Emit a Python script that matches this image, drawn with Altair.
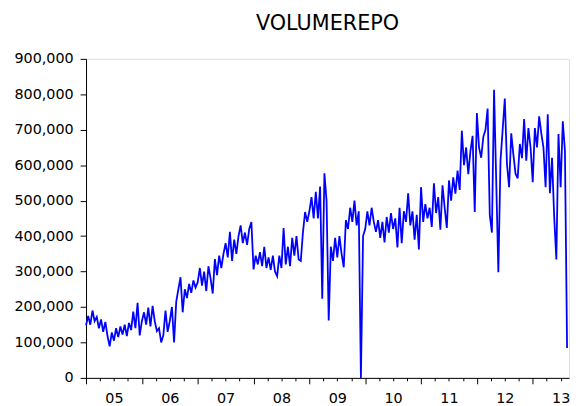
import altair as alt
import pandas as pd

# Values in thousands, roughly biweekly readings per year
v2005 = [148, 175, 150, 190, 160, 172, 140, 165, 130, 158, 118, 89, 128, 105, 140, 115, 145, 122, 150, 118, 155, 135, 187, 140, 212, 120]
v2006 = [160, 185, 150, 198, 145, 203, 160, 132, 140, 100, 120, 190, 130, 160, 200, 100, 215, 250, 284, 185, 250, 225, 265, 240, 275, 255]
v2007 = [270, 310, 260, 300, 245, 315, 280, 238, 335, 290, 345, 310, 350, 380, 340, 412, 330, 390, 350, 400, 430, 380, 410, 375, 420, 440]
v2008 = [306, 345, 320, 355, 315, 370, 310, 340, 305, 345, 300, 287, 345, 310, 423, 320, 370, 315, 395, 345, 400, 334, 330, 410, 468, 440]
v2009 = [470, 510, 450, 525, 450, 540, 223, 577, 500, 162, 370, 330, 395, 340, 400, 350, 312, 445, 420, 480, 440, 500, 430, 470, 0, 400]
v2010 = [420, 470, 430, 480, 440, 412, 445, 395, 440, 382, 454, 410, 465, 420, 450, 368, 480, 380, 470, 440, 521, 430, 470, 390, 460, 362]
v2011 = [538, 440, 490, 450, 480, 426, 549, 465, 510, 418, 543, 480, 423, 557, 500, 566, 520, 585, 530, 697, 600, 650, 575, 640, 683, 468]
v2012 = [747, 650, 621, 680, 700, 760, 460, 410, 813, 557, 298, 613, 700, 788, 604, 538, 690, 630, 576, 563, 660, 620, 730, 613, 705, 650]
v2013 = [552, 705, 650, 738, 690, 650, 538, 744, 521, 621, 454, 334, 688, 538, 724, 640, 84]

series = {2005: v2005, 2006: v2006, 2007: v2007, 2008: v2008, 2009: v2009,
          2010: v2010, 2011: v2011, 2012: v2012, 2013: v2013}
steps_per_year = 26

rows = []
for yr, vals in series.items():
    for i, v in enumerate(vals):
        rows.append({"t": yr + i / steps_per_year, "v": v * 1000})
df = pd.DataFrame(rows)

quarter_ticks = [2005 + q * 0.25 for q in range(35)]
y_ticks = [k * 100000 for k in range(10)]

FONT = "DejaVu Sans"

line = alt.Chart(df).mark_line(color="#0000FF", strokeWidth=1.8, strokeJoin="miter").encode(
    x=alt.X("t:Q",
            scale=alt.Scale(domain=[2005, 2013.65], nice=False, zero=False),
            axis=alt.Axis(values=quarter_ticks, title=None, grid=False,
                          tickSize={"condition": {"test": "datum.value % 1 === 0", "value": 6}, "value": 3},
                          labelExpr="(datum.value % 1 === 0.5) ? slice('0' + floor(datum.value % 100), -2) : ''",
                          labelOverlap=False, labelFlush=False, labelBound=False,
                          labelPadding=11, labelFont=FONT, labelFontSize=14.5,
                          labelColor="black", tickColor="black", domainColor="black")),
    y=alt.Y("v:Q",
            scale=alt.Scale(domain=[0, 900000], nice=False),
            axis=alt.Axis(values=y_ticks, format=",d", title=None, grid=False,
                          tickSize=6, labelPadding=7, labelFont=FONT, labelFontSize=14.5,
                          labelColor="black", tickColor="black", domainColor="black")),
)

chart = line.properties(
    width=489, height=323,
    autosize=alt.AutoSizeParams(type="none"),
    padding={"left": 79, "top": 49, "right": 1, "bottom": 28},
    title=alt.TitleParams("VOLUMEREPO", fontSize=21, font=FONT, fontWeight="normal",
                          anchor="middle", frame="group", offset=17,
                          color="black"),
).configure_view(stroke="black", strokeWidth=1).configure(background="white")

chart.save("out.html", embed_options={"renderer": "svg", "actions": False})
